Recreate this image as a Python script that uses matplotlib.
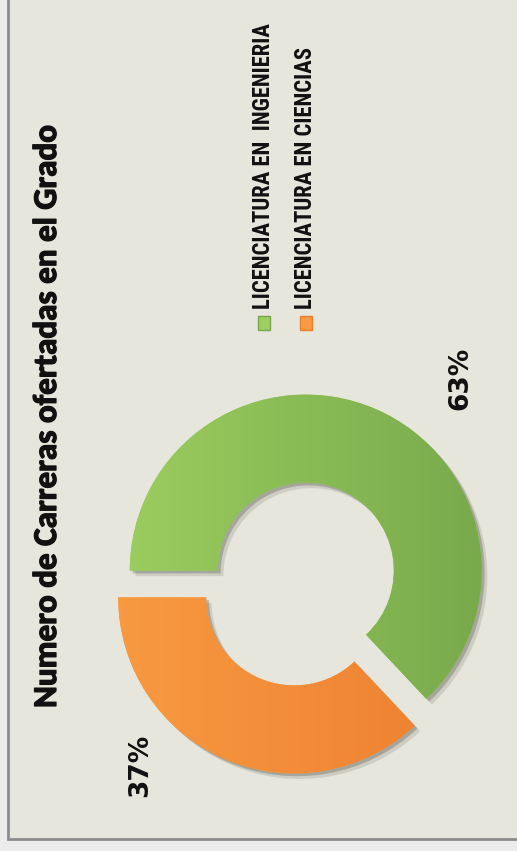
import matplotlib
matplotlib.use("Agg")
import matplotlib.pyplot as plt
import matplotlib.patheffects as pe
from matplotlib.patches import Rectangle
from matplotlib.colors import LinearSegmentedColormap
from matplotlib import font_manager
from matplotlib.font_manager import FontProperties
from matplotlib.textpath import TextPath
import numpy as np

# ---- data ----
categories = ["LICENCIATURA EN  INGENIERIA", "LICENCIATURA EN CIENCIAS"]
values = [63, 37]
colors_light = ["#9dcf60", "#f89b42"]
colors_dark = ["#76a84b", "#ec7d2e"]
title = "Numero de Carreras ofertadas en el Grado"

def pick_bold(*names):
    for n in names:
        try:
            p = font_manager.findfont(FontProperties(family=n, weight="bold"),
                                      fallback_to_default=False)
            if "bold" in p.lower():
                return n
        except Exception:
            pass
    return "DejaVu Sans"

title_font = pick_bold("Carlito", "Lato", "Open Sans", "Noto Sans", "Roboto")
legend_font = pick_bold("Liberation Sans Narrow", "Roboto Condensed", "Open Sans", "Lato")

W, H = 517, 851
fig = plt.figure(figsize=(W / 100, H / 100), dpi=100)
fig.patch.set_facecolor("#ececec")

# frame
frame = Rectangle((8 / W, (H - 839) / H), 1.2, 1.2, transform=fig.transFigure,
                  facecolor="#e7e6dc", edgecolor="#8c8c8c", lw=2, zorder=-5)
fig.patches.append(frame)

# pie axes: center (300, 584) px, radius 176 px
cx, cy, r = 300, 584, 176
L = 1.2
size = 2 * L * r
ax = fig.add_axes([(cx - size / 2) / W, (H - cy - size / 2) / H, size / W, size / H])
ax.set_zorder(2)
wedges, _ = ax.pie(values, startangle=180, counterclock=False,
                   explode=[0.083, 0.083], radius=1.0,
                   colors=colors_light,
                   wedgeprops=dict(width=0.5, edgecolor="none"))
ax.set_xlim(-L, L)
ax.set_ylim(-L, L)
ax.set_aspect("auto")
ax.axis("off")

for w, cl, cd in zip(wedges, colors_light, colors_dark):
    w.set_path_effects([pe.SimplePatchShadow(offset=(4, -4), shadow_rgbFace="#6b6b60", alpha=0.2),
                        pe.SimplePatchShadow(offset=(2, -2), shadow_rgbFace="#4a4a40", alpha=0.3),
                        pe.Normal()])
    grad = np.linspace(0, 1, 256).reshape(1, -1)
    cmap = LinearSegmentedColormap.from_list("g", [cl, cd])
    im = ax.imshow(grad, cmap=cmap, extent=[-1.15, 1.15, -1.15, 1.15],
                   aspect="auto", zorder=w.get_zorder() + 0.1, interpolation="bilinear")
    im.set_clip_path(w)

ax.set_xlim(-L, L)
ax.set_ylim(-L, L)

# percentage labels
label_pos = [(0.909, 1.17), (-0.909, -1.03)]
for v, (x, y) in zip(values, label_pos):
    ax.text(x, y, f"{v}%", rotation=90, ha="center", va="center",
            fontsize=19, fontweight="bold", family="DejaVu Sans", color="#111111")

# title: size chosen so its length matches ~583 px
tp = TextPath((0, 0), title, size=100, prop=FontProperties(family=title_font, weight="bold"))
tw = tp.get_extents().width
title_px = 580
title_size = 100 * title_px / (tw * 100 / 72)
title_size = min(title_size, 24)
fig.text(47 / W, (H - 416) / H, title, rotation=90, ha="center", va="center",
         fontsize=title_size, fontweight="bold", family=title_font, color="#111111",
         path_effects=[pe.withStroke(linewidth=0.9, foreground="#111111")])

# legend
leg_x = [264, 306]
for xpx, cat, cl, cd in zip(leg_x, categories, colors_light, colors_dark):
    sq = Rectangle(((xpx - 6) / W, (H - 330) / H), 12 / W, 14 / H, transform=fig.transFigure,
                   facecolor=cl, edgecolor=cd, lw=1)
    fig.patches.append(sq)
    fig.text(xpx / W, (H - 309) / H, cat, rotation=90, rotation_mode="anchor",
             ha="left", va="center", fontsize=16.3, fontweight="bold",
             family=legend_font, color="#111111")

fig.savefig("out.png", dpi=100, facecolor=fig.get_facecolor())
